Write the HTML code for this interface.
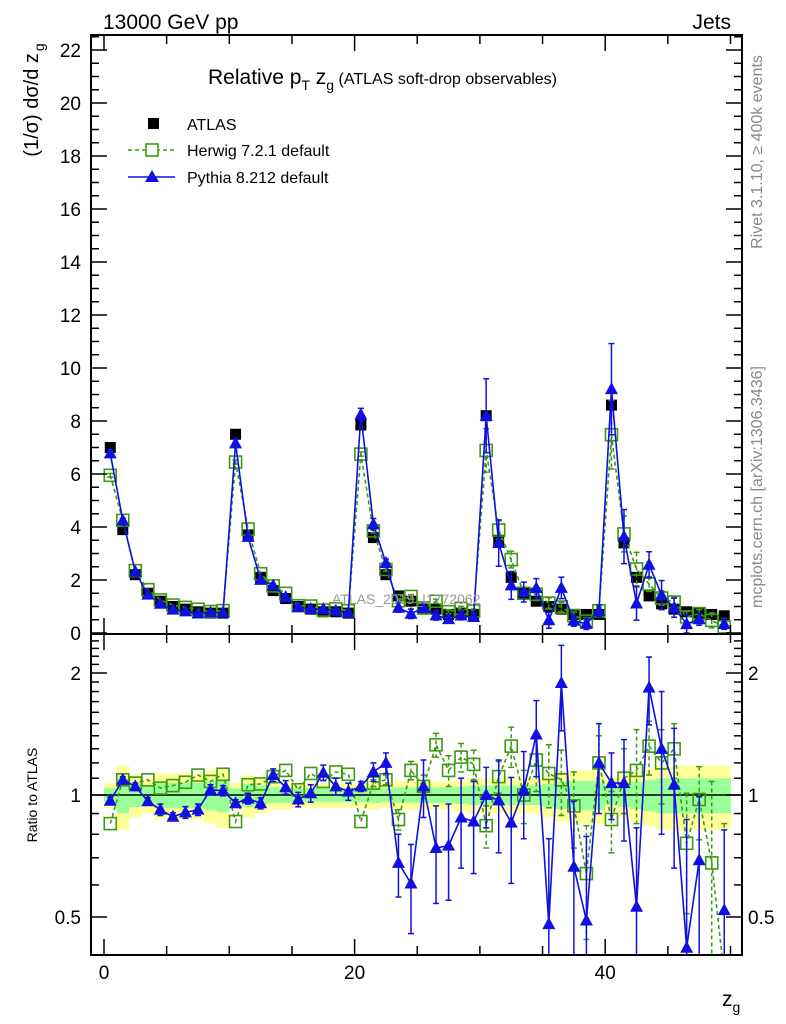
<!DOCTYPE html>
<html><head><meta charset="utf-8">
<style>
html,body{margin:0;padding:0;background:#fff;overflow:hidden;width:786px;height:1024px;}
svg{display:block;font-family:"Liberation Sans",sans-serif;}
</style></head>
<body>
<svg id="chart" width="786" height="1024" viewBox="0 0 786 1024">
<defs>
<clipPath id="clipMain"><rect x="91" y="35" width="651" height="599"/></clipPath>
<clipPath id="clipRatio"><rect x="91" y="634" width="651" height="321"/></clipPath>
</defs>
<g id="ratioBands" clip-path="url(#clipRatio)"></g>
<g id="ratioMarks" clip-path="url(#clipRatio)"></g>
<g id="mainMarks" clip-path="url(#clipMain)"></g>
<g id="axes"></g>
<text x="103" y="29" font-size="21">13000 GeV pp</text>
<text x="731" y="29" font-size="21" text-anchor="end">Jets</text>
<text x="208" y="84" font-size="21">Relative p<tspan font-size="14" dy="6">T</tspan><tspan dy="-6"> z</tspan><tspan font-size="14" dy="6">g</tspan><tspan dy="-6" font-size="16"> (ATLAS soft-drop observables)</tspan></text>
<g>
<rect x="148" y="118" width="11" height="11" fill="#000"/>
<text x="187" y="130" font-size="16">ATLAS</text>
<line x1="128" y1="150" x2="175" y2="150" stroke="#3c9a10" stroke-width="1.5" stroke-dasharray="4,3"/>
<rect x="146" y="144" width="12" height="12" fill="#fff" stroke="#3c9a10" stroke-width="1.6"/>
<text x="187" y="156" font-size="16">Herwig 7.2.1 default</text>
<line x1="128" y1="177" x2="175" y2="177" stroke="#1010e0" stroke-width="1.5"/>
<polygon points="152,170 159,182 145,182" fill="#1010e0"/>
<text x="187" y="183" font-size="16">Pythia 8.212 default</text>
</g>
<text x="332" y="604" font-size="14" fill="#999">ATLAS_2019_I1772062</text>
<text transform="translate(762,152) rotate(-90)" font-size="16" fill="#888" text-anchor="middle">Rivet 3.1.10, ≥ 400k events</text>
<text transform="translate(762,487) rotate(-90)" font-size="16" fill="#888" text-anchor="middle">mcplots.cern.ch [arXiv:1306.3436]</text>
<text transform="translate(38,100) rotate(-90)" font-size="20" text-anchor="middle">(1/σ) dσ/d z<tspan font-size="14" dy="6" dx="2">g</tspan></text>
<text transform="translate(37,795) rotate(-90)" font-size="14" text-anchor="middle">Ratio to ATLAS</text>
<text x="722" y="1006" font-size="21">z<tspan font-size="14" dy="6">g</tspan></text>
</svg>
<script>
const binCenters = [];
for (let i = 0; i < 50; i++) binCenters.push(i + 0.5);
const atlasValues = [7.0,3.9,2.2,1.5,1.2,1.0,0.9,0.8,0.75,0.75,
 7.5,3.7,2.1,1.6,1.3,1.0,0.9,0.8,0.8,0.75,
 7.85,3.6,2.2,1.4,1.2,0.9,0.9,0.7,0.75,0.7,
 8.2,3.5,2.1,1.5,1.2,1.0,0.9,0.7,0.7,0.7,
 8.6,3.4,2.1,1.4,1.1,0.9,0.8,0.75,0.7,0.65];
const herwigRatio = [0.85,1.09,1.07,1.09,1.04,1.055,1.075,1.12,1.08,1.125,
 0.86,1.06,1.065,1.11,1.15,1.03,1.13,1.08,1.14,1.125,
 0.86,1.07,1.09,0.87,1.15,1.05,1.33,1.15,1.24,1.19,
 0.84,1.11,1.32,1.0,1.22,1.13,1.09,0.94,0.64,1.2,
 0.87,1.1,1.15,1.32,1.2,1.3,0.76,0.975,0.68,0.35];
const herwigErr = [0.01,0.01,0.01,0.01,0.01,0.01,0.01,0.01,0.01,0.01,
 0.01,0.01,0.01,0.01,0.01,0.01,0.01,0.01,0.01,0.01,
 0.01,0.02,0.03,0.05,0.06,0.07,0.09,0.1,0.1,0.1,
 0.1,0.1,0.15,0.15,0.2,0.2,0.2,0.2,0.2,0.2,
 0.15,0.2,0.3,0.2,0.25,0.2,0.25,0.2,0.4,0.5];
const pythiaRatio = [0.968,1.09,1.05,0.965,0.92,0.884,0.906,0.92,1.03,1.025,
 0.954,0.98,0.954,1.12,1.045,0.975,1.01,1.135,1.05,1.02,
 1.05,1.14,1.2,0.68,0.605,1.05,0.74,0.75,0.88,0.86,
 1.0,0.97,0.855,1.03,1.41,0.48,1.89,0.665,0.49,1.2,
 1.07,1.07,0.53,1.84,1.3,1.06,0.42,0.69,null,0.52];
const pythiaErr = [0.02,0.02,0.02,0.02,0.03,0.02,0.03,0.03,0.03,0.03,
 0.02,0.03,0.03,0.04,0.04,0.04,0.05,0.05,0.05,0.05,
 0.03,0.06,0.07,0.12,0.15,0.17,0.2,0.2,0.22,0.22,
 0.17,0.25,0.25,0.25,0.3,0.3,0.45,0.3,0.3,0.3,
 0.2,0.3,0.3,0.35,0.5,0.4,0.45,0.3,0.3,0.3];
const yellowBand = [0.07,0.18,0.12,0.1,0.13,0.13,0.13,0.13,0.15,0.17,
 0.07,0.12,0.1,0.08,0.08,0.07,0.07,0.07,0.07,0.07,
 0.07,0.08,0.07,0.08,0.08,0.08,0.08,0.08,0.09,0.1,
 0.1,0.1,0.1,0.1,0.1,0.12,0.14,0.15,0.15,0.15,
 0.1,0.12,0.14,0.16,0.18,0.18,0.18,0.18,0.18,0.18];
const mainTicks = [0,2,4,6,8,10,12,14,16,18,20,22];
const ratioTicks = [0.5,1,2];
const xTicks = [0,20,40];

const NS = "http://www.w3.org/2000/svg";
const X0 = 104, XS = 12.53;
const L = 91, R = 742, T = 35, MB = 634, RB = 955;
const xs = v => X0 + XS * v;
const ym = v => 633 - 26.5 * v;
const yr = r => 795 - 122 * Math.log2(r);
const GREEN = "#3c9a10", BLUE = "#1010e0";
const clamp = (v, a, b) => Math.max(a, Math.min(b, v));

function el(tag, attrs, parent) {
  const e = document.createElementNS(NS, tag);
  for (const k in attrs) e.setAttribute(k, attrs[k]);
  parent.appendChild(e);
  return e;
}
const bands = document.getElementById('ratioBands');
const rm = document.getElementById('ratioMarks');
const mm = document.getElementById('mainMarks');
const ax = document.getElementById('axes');

binCenters.forEach((c, i) => {
  const y = yellowBand[i], g = y * 0.55;
  const b1 = el('rect', {x: xs(c - 0.5), width: XS + 0.3, y: yr(1 + y), height: yr(1 - y) - yr(1 + y), fill: '#ffff99'}, bands);
  
  
  const b2 = el('rect', {x: xs(c - 0.5), width: XS + 0.3, y: yr(1 + g), height: yr(1 - g) - yr(1 + g), fill: '#99ff99'}, bands);
  
  
});
const unity = el('line', {x1: L, x2: R, y1: yr(1), y2: yr(1), stroke: '#000', 'stroke-width': 1.5}, rm);



function polyline(points, color, dash, parent, name) {
  let segs = [], cur = [];
  points.forEach(p => { if (p) cur.push(p.join(',')); else { if (cur.length) segs.push(cur); cur = []; } });
  if (cur.length) segs.push(cur);
  segs.forEach(s => {
    const pl = el('polyline', {points: s.join(' '), fill: 'none', stroke: color, 'stroke-width': 1.6}, parent);
    if (dash) pl.setAttribute('stroke-dasharray', '4,3');
    
    
  });
}
function errbar(x, y1, y2, color, dash, parent, top, bot) {
  const c1 = clamp(y1, top, bot), c2 = clamp(y2, top, bot);
  const l = el('line', {x1: x, x2: x, y1: c1, y2: c2, stroke: color, 'stroke-width': 1.5}, parent);
  if (dash) l.setAttribute('stroke-dasharray', '4,3');
  
  
  [y1, y2].forEach(y => {
    if (y < top || y > bot) return;
    const c = el('line', {x1: x - 3, x2: x + 3, y1: y, y2: y, stroke: color, 'stroke-width': 1.5}, parent);
    
    
  });
}
function sq(x, y, parent, name) {
  const r = el('rect', {x: x - 6, y: y - 6, width: 12, height: 12, fill: 'none', stroke: GREEN, 'stroke-width': 1.6}, parent);
  
  
}
function tri(x, y, parent, name) {
  const p = el('polygon', {points: `${x},${y - 7} ${x + 6.5},${y + 5} ${x - 6.5},${y + 5}`, fill: BLUE}, parent);
  
  
}

polyline(binCenters.map((c, i) => [xs(c), clamp(yr(herwigRatio[i]), MB - 20, RB + 20)]), GREEN, true, rm, 'herwig-ratio-line');
binCenters.forEach((c, i) => {
  const r = herwigRatio[i], e = herwigErr[i];
  if (e > 0.015) errbar(xs(c), yr(r + e), yr(Math.max(r - e, 0.05)), GREEN, true, rm, MB, RB);
  if (yr(r) < RB + 8) sq(xs(c), yr(r), rm, 'herwig-ratio-point');
});
polyline(binCenters.map((c, i) => pythiaRatio[i] == null ? null : [xs(c), clamp(yr(pythiaRatio[i]), MB - 20, RB + 20)]), BLUE, false, rm, 'pythia-ratio-line');
binCenters.forEach((c, i) => {
  const r = pythiaRatio[i]; if (r == null) return;
  const e = pythiaErr[i];
  errbar(xs(c), yr(r + e), yr(Math.max(r - e, 0.05)), BLUE, false, rm, MB, RB);
  tri(xs(c), yr(r), rm, 'pythia-ratio-point');
});

binCenters.forEach((c, i) => {
  const a = el('rect', {x: xs(c) - 5.5, y: ym(atlasValues[i]) - 5.5, width: 11, height: 11, fill: '#000'}, mm);
  
  
});
polyline(binCenters.map((c, i) => [xs(c), ym(atlasValues[i] * herwigRatio[i])]), GREEN, true, mm, 'herwig-line');
binCenters.forEach((c, i) => {
  const v = atlasValues[i] * herwigRatio[i], e = atlasValues[i] * herwigErr[i];
  if (e > 0.04) errbar(xs(c), ym(v + e), ym(Math.max(v - e, 0)), GREEN, true, mm, T, MB);
  sq(xs(c), ym(v), mm, 'herwig-point');
});
polyline(binCenters.map((c, i) => pythiaRatio[i] == null ? null : [xs(c), ym(atlasValues[i] * pythiaRatio[i])]), BLUE, false, mm, 'pythia-line');
binCenters.forEach((c, i) => {
  if (pythiaRatio[i] == null) return;
  const v = atlasValues[i] * pythiaRatio[i], e = atlasValues[i] * pythiaErr[i];
  if (e > 0.04) errbar(xs(c), ym(v + e), ym(Math.max(v - e, 0)), BLUE, false, mm, T, MB);
  tri(xs(c), ym(v), mm, 'pythia-point');
});

[[T, MB], [MB, RB]].forEach(([t, b], k) => {
  const f = el('rect', {x: L, y: t, width: R - L, height: b - t, fill: 'none', stroke: '#000', 'stroke-width': 2}, ax);
  
  
});
function tick(x1, y1, x2, y2) {
  const t = el('line', {x1, y1, x2, y2, stroke: '#000', 'stroke-width': 1.5}, ax);
  
  
}
function label(x, y, txt, anchor, size, name) {
  const t = el('text', {x, y, 'text-anchor': anchor, 'font-size': size}, ax);
  t.textContent = txt;
  
  
}
for (let v = 0; v <= 50; v += 5) {
  const len = v % 20 === 0 ? 16 : 9;
  const x = xs(v);
  tick(x, T, x, T + len); tick(x, MB, x, MB - len);
  tick(x, MB, x, MB + len); tick(x, RB, x, RB - len);
}
xTicks.forEach(v => label(xs(v), 979, String(v), 'middle', 19, 'x-tick-label'));
for (let v = 0; v <= 22.5; v += 0.5) {
  const major = Math.abs(v % 2) < 1e-9;
  const len = major ? 16 : 8;
  tick(L, ym(v), L + len, ym(v)); tick(R, ym(v), R - len, ym(v));
}
mainTicks.forEach(v => label(81, ym(v) + 7, String(v), 'end', 19, 'y-tick-label'));
for (let v = 0.4; v <= 2.5; v += 0.1) {
  const y = yr(v); if (y < MB || y > RB) continue;
  const major = ratioTicks.some(t => Math.abs(t - v) < 1e-6);
  const len = major ? 16 : 8;
  tick(L, y, L + len, y); tick(R, y, R - len, y);
}
ratioTicks.forEach(v => {
  label(81, yr(v) + 7, String(v), 'end', 19, 'ratio-tick-label');
  label(748, yr(v) + 7, String(v), 'start', 19, 'ratio-tick-label-right');
});
</script>
</body></html>
